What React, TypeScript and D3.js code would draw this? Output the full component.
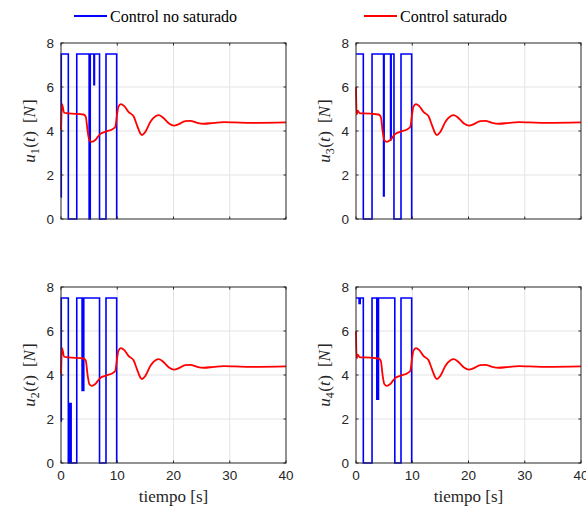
import React from "react";
import { scaleLinear, line, curveStepAfter, curveMonotoneX } from "d3";

// axis limits and ticks
const timeDomain = [0, 40];
const forceDomain = [0, 8];
const timeTicks = [0, 10, 20, 30, 40];
const forceTicks = [0, 2, 4, 6, 8];

// unsaturated control (blue), step signals
const u1Time = [0, 0.05, 1.3, 2.8, 5.0, 5.2, 5.85, 5.95, 6.85, 8.0, 9.9];
const u1Value = [1.0, 7.5, 0, 7.5, 0, 7.5, 6.1, 7.5, 0, 7.5, 0];
const u2Time = [0, 0.05, 1.3, 1.45, 1.5, 1.6, 1.65, 1.75, 1.8, 2.8, 3.75, 3.85, 3.95, 4.05, 6.85, 8.0, 9.9];
const u2Value = [1.9, 7.5, 0, 2.7, 0, 2.7, 0, 2.7, 0, 7.5, 3.3, 7.5, 3.3, 7.5, 0, 7.5, 0];
const u3Time = [0, 1.3, 2.85, 4.9, 5.0, 6.15, 6.25, 6.75, 8.0, 9.9];
const u3Value = [7.5, 0, 7.5, 1.05, 7.5, 3.6, 7.5, 0, 7.5, 0];
const u4Time = [0, 0.55, 0.75, 1.3, 2.85, 3.7, 3.8, 3.9, 4.0, 6.9, 8.0, 9.9];
const u4Value = [7.5, 7.25, 7.5, 0, 7.5, 2.9, 7.5, 2.9, 7.5, 0, 7.5, 0];

// saturated control (red)
const redHeadTimeA = [0, 0.18, 0.55, 1.3];
const redHeadValueA = [4.04, 5.22, 4.83, 4.8];
const redHeadTimeB = [0, 0.12, 0.3, 0.7, 1.3];
const redHeadValueB = [6.0, 4.75, 4.92, 4.8, 4.8];
const redTailTime = [4.0, 4.4, 4.75, 5.05, 5.5, 6.05, 6.95, 7.85, 9.3, 9.65, 9.95, 10.2, 10.65, 11.25, 12.0, 12.9, 13.5, 14.1, 14.4, 15.0, 15.9, 16.8, 17.4, 18.3, 19.2, 20.1, 20.95, 22.1, 23.0, 24.2, 25.4, 27.2, 29.0, 30.8, 33.8, 40];
const redTailValue = [4.75, 4.65, 3.96, 3.58, 3.51, 3.58, 3.86, 3.96, 4.11, 4.19, 4.72, 5.1, 5.22, 5.13, 4.87, 4.67, 4.27, 3.89, 3.81, 3.96, 4.42, 4.67, 4.72, 4.57, 4.34, 4.24, 4.31, 4.45, 4.46, 4.37, 4.33, 4.37, 4.4, 4.39, 4.37, 4.39];

const zip = (t: number[], v: number[]) => t.map((x, i) => [x, v[i]] as [number, number]);

const panels = [
  { idx: "1", left: 61, top: 43, blue: zip(u1Time, u1Value), red: zip(redHeadTimeA.concat(redTailTime), redHeadValueA.concat(redTailValue)), xlabel: false },
  { idx: "3", left: 356, top: 43, blue: zip(u3Time, u3Value), red: zip(redHeadTimeB.concat(redTailTime), redHeadValueB.concat(redTailValue)), xlabel: false },
  { idx: "2", left: 61, top: 287, blue: zip(u2Time, u2Value), red: zip(redHeadTimeA.concat(redTailTime), redHeadValueA.concat(redTailValue)), xlabel: true },
  { idx: "4", left: 356, top: 287, blue: zip(u4Time, u4Value), red: zip(redHeadTimeB.concat(redTailTime), redHeadValueB.concat(redTailValue)), xlabel: true },
];

const W = 225;
const H = 176;
const axisColor = "#262626";
const gridColor = "#e3e3e3";
const blue = "#0000ff";
const red = "#ff0000";
const serif = "'Liberation Serif', 'Times New Roman', serif";
const sans = "'Liberation Sans', Arial, Helvetica, sans-serif";

const Panel = ({ p }: { p: (typeof panels)[0] }) => {
  const x = scaleLinear().domain(timeDomain).range([0, W]);
  const y = scaleLinear().domain(forceDomain).range([H, 0]);
  const stepLine = line<[number, number]>()
    .x((d) => x(d[0]))
    .y((d) => y(d[1]))
    .curve(curveStepAfter);
  const smoothLine = line<[number, number]>()
    .x((d) => x(d[0]))
    .y((d) => y(d[1]))
    .curve(curveMonotoneX);

  return (
    <g transform={`translate(${p.left},${p.top})`}>
      <rect width={W} height={H} fill="white" />
      {timeTicks.slice(1, -1).map((t) => (
        <line key={"gx" + t} x1={x(t)} x2={x(t)} y1={0} y2={H} stroke={gridColor} strokeWidth={1} />
      ))}
      {forceTicks.slice(1, -1).map((v) => (
        <line key={"gy" + v} x1={0} x2={W} y1={y(v)} y2={y(v)} stroke={gridColor} strokeWidth={1} />
      ))}
      <path d={stepLine(p.blue) || ""} fill="none" stroke={blue} strokeWidth={1.6} />
      <path d={smoothLine(p.red) || ""} fill="none" stroke={red} strokeWidth={1.8} />
      <rect width={W} height={H} fill="none" stroke={axisColor} strokeWidth={1} />
      {timeTicks.map((t) => (
        <g key={"tx" + t}>
          <line x1={x(t)} x2={x(t)} y1={H} y2={H - 2.5} stroke={axisColor} />
          <line x1={x(t)} x2={x(t)} y1={0} y2={2.5} stroke={axisColor} />
          {p.xlabel && (
            <text x={x(t)} y={H + 17} textAnchor="middle" fontFamily={sans} fontSize={13.5} fill={axisColor}>
              {t}
            </text>
          )}
        </g>
      ))}
      {forceTicks.map((v) => (
        <g key={"ty" + v}>
          <line x1={0} x2={2.5} y1={y(v)} y2={y(v)} stroke={axisColor} />
          <line x1={W} x2={W - 2.5} y1={y(v)} y2={y(v)} stroke={axisColor} />
          <text x={-7} y={y(v) + 4.8} textAnchor="end" fontFamily={sans} fontSize={13.5} fill={axisColor}>
            {v}
          </text>
        </g>
      ))}
      <text
        transform={`translate(-26,${H / 2}) rotate(-90)`}
        textAnchor="middle"
        fontFamily={serif}
        fontSize={17}
        fill={axisColor}
      >
        <tspan fontStyle="italic">u</tspan>
        <tspan fontSize={12} dy={4}>{p.idx}</tspan>
        <tspan dy={-4} dx={0.5}>(</tspan>
        <tspan fontStyle="italic">t</tspan>
        <tspan dx={0.5}>)</tspan>
        <tspan dx={8}>[</tspan>
        <tspan fontStyle="italic">N</tspan>
        <tspan dx={1}>]</tspan>
      </text>
      {p.xlabel && (
        <text x={W / 2} y={H + 39} textAnchor="middle" fontFamily={serif} fontSize={17} fill={axisColor}>
          tiempo [s]
        </text>
      )}
    </g>
  );
};

export default function App() {
  return (
    <svg width={586} height={511} style={{ position: "absolute", left: 0, top: 0, background: "white" }}>
      <rect width={586} height={511} fill="white" />
      <line x1={74} x2={107} y1={16} y2={16} stroke={blue} strokeWidth={1.8} />
      <text x={110} y={22} fontFamily={serif} fontSize={16} fill="#000">
        Control no saturado
      </text>
      <line x1={364} x2={397} y1={16} y2={16} stroke={red} strokeWidth={1.8} />
      <text x={400} y={22} fontFamily={serif} fontSize={16} fill="#000">
        Control saturado
      </text>
      {panels.map((p) => (
        <Panel key={p.idx} p={p} />
      ))}
    </svg>
  );
}
